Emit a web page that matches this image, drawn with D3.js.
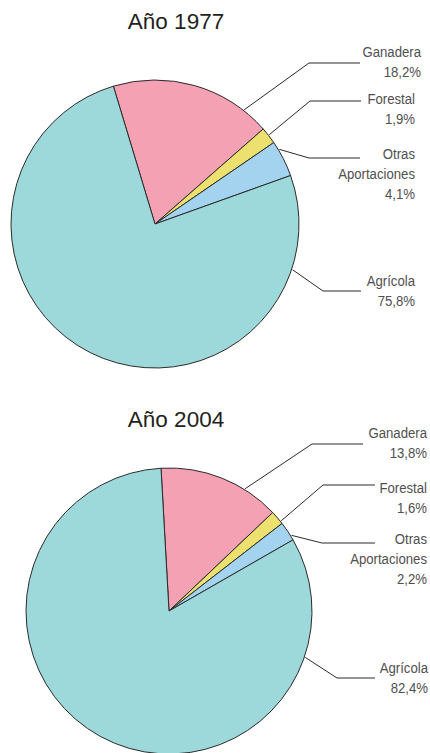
<!DOCTYPE html>
<html lang="es">
<head>
<meta charset="utf-8">
<script src="https://cdn.jsdelivr.net/npm/d3@7"></script>
<style>
  html, body { margin: 0; padding: 0; background: #fff; }
  svg { display: block; }
</style>
</head>
<body>
<svg id="chart" width="430" height="753"></svg>
<script>
// Composición de la producción por rama (%)
const categories = ["Ganadera", "Forestal", "Otras Aportaciones", "Agrícola"];
const years = ["Año 1977", "Año 2004"];
const values1977 = [18.2, 1.9, 4.1, 75.8];
const values2004 = [13.8, 1.6, 2.2, 82.4];
const labelLines = [["Ganadera"], ["Forestal"], ["Otras", "Aportaciones"], ["Agrícola"]];

const colors = ["#f4a1b4", "#ece06e", "#a4d3ef", "#9dd8da"];

// Layout of each pie: centre, radius, rotation and callout geometry
const layouts = [
  {
    cx: 155, cy: 224, r: 144, start: -16.8,
    title: { x: 176, y: 29 },
    labelX: [421, 415, 415, 415],
    callouts: [
      { a: 38,    knee: [309, 63],  end: 360, ty: 52 },
      { a: 52,    knee: [310, 101], end: 361, ty: 99 },
      { a: 59,    knee: [309, 158], end: 360, ty: 154 },
      { a: 108.4, knee: [323, 291], end: 361, ty: 281 }
    ]
  },
  {
    cx: 169, cy: 611, r: 143, start: -3.2,
    title: { x: 176, y: 427 },
    labelX: [427, 427, 427, 428],
    callouts: [
      { a: 31.9,  knee: [312, 444], end: 363, ty: 433 },
      { a: 51.2,  knee: [323, 485], end: 375, ty: 488 },
      { a: 58.3,  knee: [322, 543], end: 375, ty: 539 },
      { a: 108.8, knee: [337, 678], end: 375, ty: 668 }
    ]
  }
];

const fmt = v => d3.format(".1f")(v).replace(".", ",") + "%";
const rad = deg => deg * Math.PI / 180;
const condense = 0.85; // horizontal squeeze for the narrow label face

const svg = d3.select("#chart");
const color = d3.scaleOrdinal().domain(categories).range(colors);

[values1977, values2004].forEach((vals, i) => {
  const L = layouts[i];
  const data = categories.map((c, k) => ({ cat: c, value: vals[k], lines: labelLines[k] }));

  const pie = d3.pie()
    .sort(null)
    .value(d => d.value)
    .startAngle(rad(L.start))
    .endAngle(rad(L.start) + 2 * Math.PI);

  const arc = d3.arc().innerRadius(0).outerRadius(L.r);

  const g = svg.append("g");

  g.append("text")
    .attr("x", L.title.x)
    .attr("y", L.title.y)
    .attr("text-anchor", "middle")
    .attr("font-family", "'Liberation Sans', Arial, sans-serif")
    .attr("font-size", 22.5)
    .attr("fill", "#231f20")
    .text(years[i]);

  const pg = g.append("g").attr("transform", `translate(${L.cx},${L.cy})`);
  pg.selectAll("path")
    .data(pie(data))
    .join("path")
    .attr("d", arc)
    .attr("fill", d => color(d.data.cat))
    .attr("stroke", "#2b2b2b")
    .attr("stroke-width", 1)
    .attr("stroke-linejoin", "round");

  // callouts
  data.forEach((d, k) => {
    const c = L.callouts[k];
    const sx = L.cx + (L.r + 1) * Math.sin(rad(c.a));
    const sy = L.cy - (L.r + 1) * Math.cos(rad(c.a));
    g.append("polyline")
      .attr("points", [[sx, sy], c.knee, [c.end, c.knee[1]]].map(p => p.join(",")).join(" "))
      .attr("fill", "none")
      .attr("stroke", "#2b2b2b")
      .attr("stroke-width", 1);

    const lines = d.lines.concat([fmt(d.value)]);
    const t = g.append("text")
      .attr("transform", `translate(${L.labelX[k]},${c.ty}) scale(${condense},1)`)
      .attr("text-anchor", "end")
      .attr("font-family", "'Liberation Sans', Arial, sans-serif")
      .attr("font-size", 15.5)
      .attr("fill", "#505050");
    lines.forEach((s, j) => {
      t.append("tspan")
        .attr("x", 0)
        .attr("y", j * 20)
        .attr("dy", "0.35em")
        .text(s);
    });
  });
});
</script>
</body>
</html>
